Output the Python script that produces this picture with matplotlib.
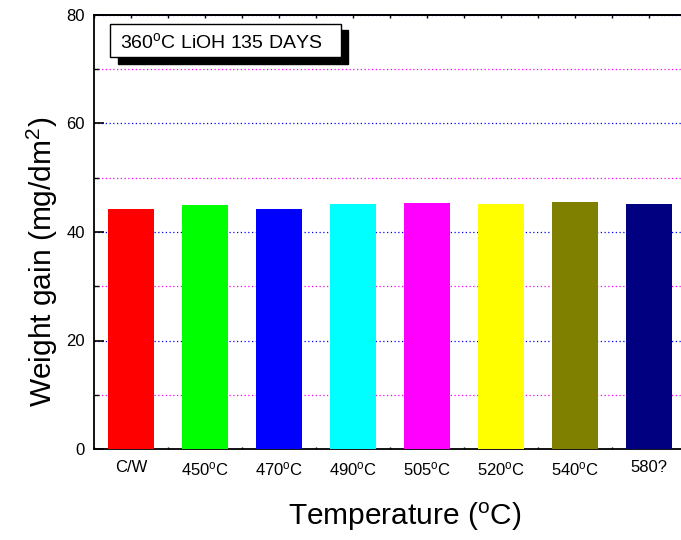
import numpy as np
import matplotlib
matplotlib.use('Agg')
import matplotlib.pyplot as plt
from matplotlib.patches import Rectangle
from matplotlib.ticker import MultipleLocator

plt.rcParams['font.family'] = ['Liberation Sans', 'DejaVu Sans']
plt.rcParams['mathtext.fontset'] = 'custom'
plt.rcParams['mathtext.rm'] = 'Liberation Sans'
plt.rcParams['mathtext.it'] = 'Liberation Sans:italic'

# data
samples = ['C/W', r'450$^{\rm o}$C', r'470$^{\rm o}$C', r'490$^{\rm o}$C',
           r'505$^{\rm o}$C', r'520$^{\rm o}$C', r'540$^{\rm o}$C', '580?']
weight_gain = [44.3, 44.9, 44.3, 45.2, 45.4, 45.1, 45.6, 45.1]
bar_colors = ['#FF0000', '#00FF00', '#0000FF', '#00FFFF',
              '#FF00FF', '#FFFF00', '#808000', '#000080']

fig = plt.figure(figsize=(6.81, 5.4), dpi=100)
ax = fig.add_axes([94/681, 91/540, 592/681, 434/540])

x = np.arange(len(samples))
ax.bar(x, weight_gain, width=0.61, color=bar_colors, zorder=3)

ax.set_xlim(-0.5, 7.5)
ax.set_ylim(0, 80)

# grid: blue on majors, magenta on minors
ax.yaxis.set_major_locator(MultipleLocator(20))
ax.yaxis.set_minor_locator(MultipleLocator(10))
ax.grid(axis='y', which='major', color='#0000FF', linestyle=(0, (1, 2)), linewidth=0.9, zorder=1)
ax.grid(axis='y', which='minor', color='#FF00FF', linestyle=(0, (1, 2)), linewidth=0.9, zorder=1)
ax.set_axisbelow(True)

ax.set_xticks(x)
ax.set_xticklabels(samples, fontsize=12)
ax.xaxis.set_minor_locator(MultipleLocator(0.5))
ax.tick_params(axis='x', which='major', direction='in', length=6.5, width=1.2, pad=8)
ax.tick_params(axis='x', which='minor', direction='in', length=1.5, width=1.0)
ax.tick_params(axis='y', which='major', direction='in', length=7, width=1.2, pad=6.5, labelsize=12)
ax.tick_params(axis='y', which='minor', direction='in', length=3.5, width=1.0)

top = ax.secondary_xaxis('top')
top.set_xticks(np.arange(-0.5, 8, 0.5))
top.tick_params(direction='in', length=2, width=1.0, labeltop=False)

for s in ax.spines.values():
    s.set_linewidth(1.3)
top.spines['top'].set_linewidth(1.3)

ax.set_ylabel(r'Weight gain (mg/dm$^{2}$)', fontsize=21.5)
ax.yaxis.set_label_coords(-0.058, 0.43)
ax.set_xlabel(r'Temperature ($^{\rm o}$C)', fontsize=21.5)
ax.xaxis.set_label_coords(0.525, -0.118)

# annotation box with drop shadow
ax.add_patch(Rectangle((0.0397, 0.887), 0.3897, 0.0775, transform=ax.transAxes,
                       facecolor='black', edgecolor='black', zorder=5, clip_on=False))
ax.add_patch(Rectangle((0.027, 0.9025), 0.3897, 0.0775, transform=ax.transAxes,
                       facecolor='white', edgecolor='black', linewidth=1.0, zorder=6, clip_on=False))
ax.text(0.214, 0.9233, r'360$^{\rm o}$C LiOH 135 DAYS', transform=ax.transAxes,
        fontsize=14, ha='center', va='baseline', zorder=7)

fig.savefig('out.png', dpi=100)
